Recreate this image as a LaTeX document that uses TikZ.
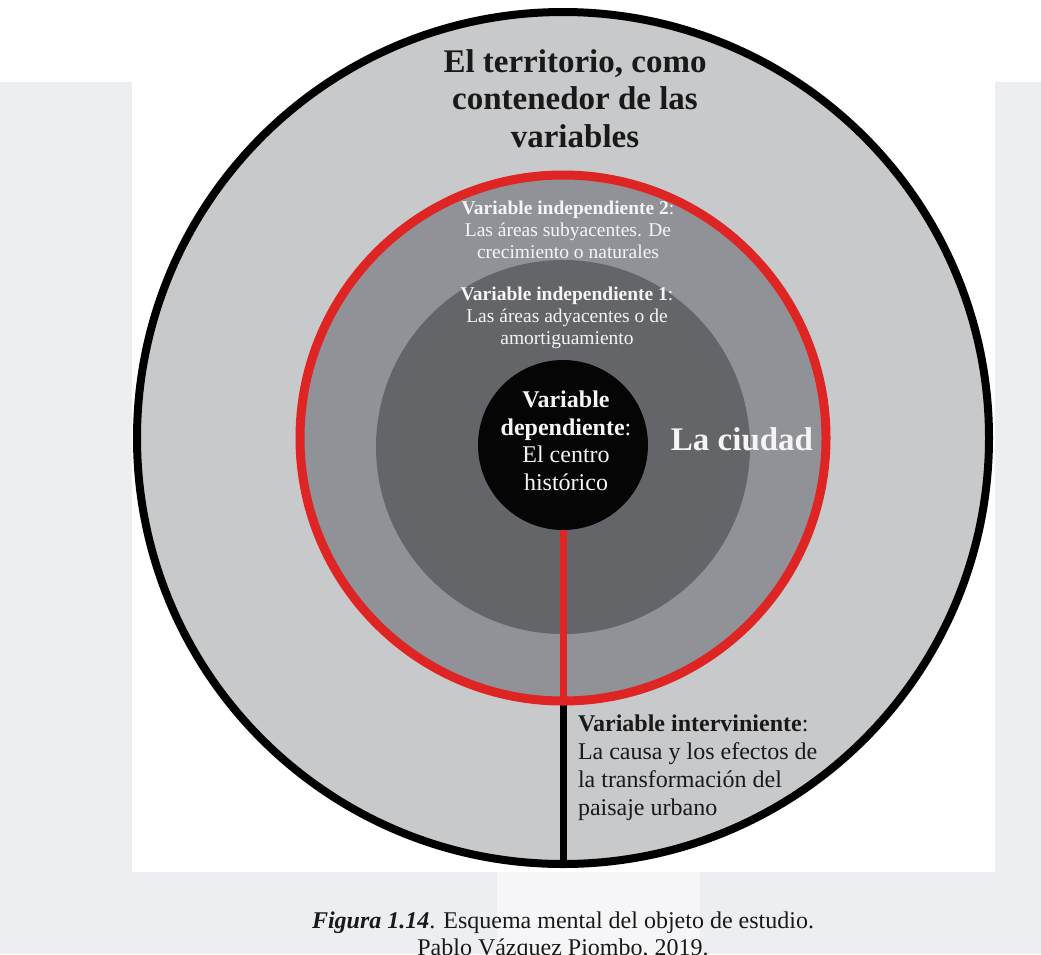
\documentclass[tikz,border=0pt]{standalone}
\usepackage{fontspec}
\setmainfont{Liberation Serif}
\definecolor{wm}{HTML}{EDEEF2}
\definecolor{wmlight}{HTML}{F6F6F8}
\definecolor{outerfill}{HTML}{C8C9CB}
\definecolor{ringfill}{HTML}{909297}
\definecolor{darkfill}{HTML}{646568}
\definecolor{corefill}{HTML}{050505}
\definecolor{redc}{HTML}{DF2424}
\definecolor{lighttext}{HTML}{F5F5F5}
\begin{document}
\begin{tikzpicture}[x=1pt,y=-1pt,
  zone/.style={circle,inner sep=0pt,outer sep=0pt},
  lbl/.style={inner sep=0pt,outer sep=0pt,anchor=base,align=center},
  vline/.style={line width=7pt}
]
\useasboundingbox (0,0) rectangle (1041,954);
% page background and faint watermark
\fill[white] (0,0) rectangle (1041,954);
\fill[wm] (0,82) rectangle (132,954);
\fill[wm] (995,82) rectangle (1041,954);
\fill[wm] (0,872) rectangle (497,954);
\fill[wmlight] (497,872) rectangle (700,954);
\fill[wm] (700,872) rectangle (1041,954);
\fill[white] (132,10) rectangle (995,872);
% zones
\node[zone,fill=outerfill,draw=black,line width=8pt,minimum size=852pt] (terr) at (563,438) {};
\draw[vline,black,shorten <=4pt] (563,701) coordinate (rb) -- (terr.south);
\node[zone,fill=ringfill,draw=redc,line width=9pt,minimum size=526pt] (city) at (563,438) {};
\node[zone,fill=darkfill,minimum size=374pt] (adj) at (563,447) {};
\node[zone,fill=corefill,minimum size=170pt] (core) at (563,445) {};
\draw[vline,redc] (core.south) -- (city.south);
% texts (anchor = baseline of the last line)
\node[lbl,font=\bfseries\fontsize{33}{37.5}\selectfont,text=black!90] (title) at (575,147)
  {El territorio, como\\contenedor de las\\variables};
\node[lbl,font=\fontsize{19.5}{22}\selectfont,text=lighttext] (ind2) at (568,258)
  {\textbf{Variable independiente 2}:\\Las áreas subyacentes. De\\crecimiento o naturales};
\node[lbl,font=\fontsize{19.5}{22}\selectfont,text=lighttext] (ind1) at (567,344)
  {\textbf{Variable independiente 1}:\\Las áreas adyacentes o de\\amortiguamiento};
\node[lbl,font=\fontsize{24}{27.5}\selectfont,text=lighttext] (dep) at (566,490)
  {\textbf{Variable}\\\textbf{dependiente}:\\El centro\\histórico};
\node[lbl,font=\bfseries\fontsize{33}{37}\selectfont,text=lighttext] (ciudad) at (742,450) {La ciudad};
\node[lbl,anchor=base west,align=left,font=\fontsize{24}{27.7}\selectfont,text=black!90] (interv) at (578,815)
  {\textbf{Variable interviniente}:\\La causa y los efectos de\\la transformación del\\paisaje urbano};
\node[lbl,font=\fontsize{24}{27}\selectfont,text=black!90] (caption) at (563,955)
  {\textbf{\textit{Figura 1.14}}. Esquema mental del objeto de estudio.\\Pablo Vázquez Piombo, 2019.};
\end{tikzpicture}
\end{document}
